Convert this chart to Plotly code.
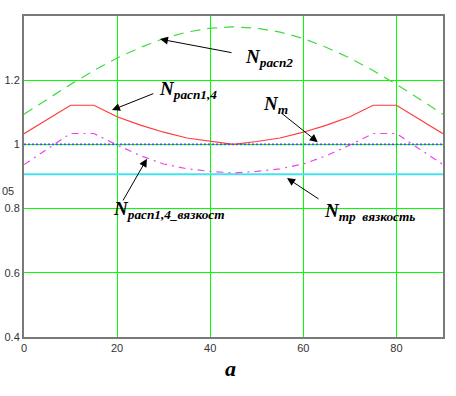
import plotly.graph_objects as go

# ---- data ----
angles = [0, 5, 10, 15, 20, 25, 30, 35, 40, 45, 50, 55, 60, 65, 70, 75, 80, 85, 90]
n_rasp2 = [1.094, 1.141, 1.187, 1.230, 1.269, 1.302, 1.330, 1.350, 1.362, 1.366,
           1.362, 1.350, 1.330, 1.302, 1.269, 1.230, 1.187, 1.141, 1.094]
n_rasp14 = [1.033, 1.078, 1.122, 1.122, 1.086, 1.060, 1.038, 1.020, 1.009, 1.000,
            1.009, 1.020, 1.038, 1.060, 1.086, 1.122, 1.122, 1.078, 1.033]
n_rasp14_visc = [0.937, 0.985, 1.034, 1.034, 0.998, 0.965, 0.939, 0.924, 0.916, 0.911,
                 0.916, 0.924, 0.939, 0.965, 0.998, 1.034, 1.034, 0.985, 0.937]
const_x = [0, 90]
n_t = [1.0, 1.0]
n_tr_visc = [0.907, 0.907]

x_ticks = [0, 20, 40, 60, 80]
y_ticks = [0.4, 0.6, 0.8, 1.0, 1.2]
y_ticktext = ["0.4", "0.6", "0.8", "1", "1.2"]

fig = go.Figure()
fig.add_trace(go.Scatter(x=const_x, y=n_tr_visc, mode="lines",
                         line=dict(color="#45e3f0", width=2.2), hoverinfo="skip"))
fig.add_trace(go.Scatter(x=angles, y=n_rasp2, mode="lines",
                         line=dict(color="#3ddc3d", width=1.2, dash="10px,7px"), hoverinfo="skip"))
fig.add_trace(go.Scatter(x=angles, y=n_rasp14, mode="lines",
                         line=dict(color="#ff3b3b", width=1.2), hoverinfo="skip"))
fig.add_trace(go.Scatter(x=angles, y=n_rasp14_visc, mode="lines",
                         line=dict(color="#ee44ee", width=1.2, dash="7px,5px,2px,5px"), hoverinfo="skip"))
fig.add_trace(go.Scatter(x=const_x, y=n_t, mode="lines",
                         line=dict(color="#4455ee", width=1.6, dash="2px,2px"), hoverinfo="skip"))

SERIF = "Liberation Serif, Times New Roman, DejaVu Serif, serif"
lab_font = dict(family=SERIF, size=19, color="black")


def lbl(sub):
    return "<b><i>N<sub>" + sub + "</sub></i></b>"


texts = [
    (lbl("расп2"), 47.0, 1.270),
    (lbl("расп1,4"), 28.6, 1.170),
    (lbl("т"), 51.0, 1.123),
    (lbl("расп1,4_вязкост"), 18.7, 0.796),
    (lbl("тр  вязкость"), 64.0, 0.789),
]
for t, x, y in texts:
    fig.add_annotation(x=x, y=y, text=t, showarrow=False, xanchor="left", yanchor="middle",
                       font=lab_font)

arrows = [
    # head x, head y, tail x, tail y
    (29.2, 1.328, 44.9, 1.285),
    (18.9, 1.107, 28.1, 1.160),
    (63.1, 1.007, 55.0, 1.101),
    (26.4, 0.955, 21.1, 0.821),
    (56.5, 0.895, 63.6, 0.827),
]
for hx, hy, tx, ty in arrows:
    fig.add_annotation(x=hx, y=hy, ax=tx, ay=ty, axref="x", ayref="y", text="",
                       showarrow=True, arrowhead=2, arrowsize=1.6, arrowwidth=1,
                       arrowcolor="black", standoff=0)

fig.add_annotation(xref="paper", yref="paper", x=0.492, y=-0.097, text="<b><i>a</i></b>",
                   showarrow=False, font=dict(family=SERIF, size=22, color="black"),
                   xanchor="center", yanchor="middle")
fig.add_annotation(xref="paper", yref="y", x=-0.0573, y=0.855, text="05", showarrow=False,
                   xanchor="left", yanchor="middle",
                   font=dict(family="Liberation Sans", size=11, color="#333333"))

axis_common = dict(showgrid=True, gridcolor="#00ff00", gridwidth=1, zeroline=False,
                   showline=True, linecolor="#7a7a7a", linewidth=2, mirror=True,
                   automargin=False, ticks="",
                   tickfont=dict(family="Liberation Sans", size=11, color="#333333"))
fig.update_xaxes(range=[0, 90], tickvals=x_ticks, **axis_common)
fig.update_yaxes(range=[0.4, 1.4], tickvals=y_ticks, ticktext=y_ticktext, **axis_common)

fig.update_layout(width=456, height=396, margin=dict(l=24, r=13, t=16, b=59, autoexpand=False),
                  showlegend=False, plot_bgcolor="white", paper_bgcolor="white")

fig.write_html("out.html", config={"displayModeBar": False},
               post_script="document.body.style.margin='0';document.body.style.overflow='hidden';")
